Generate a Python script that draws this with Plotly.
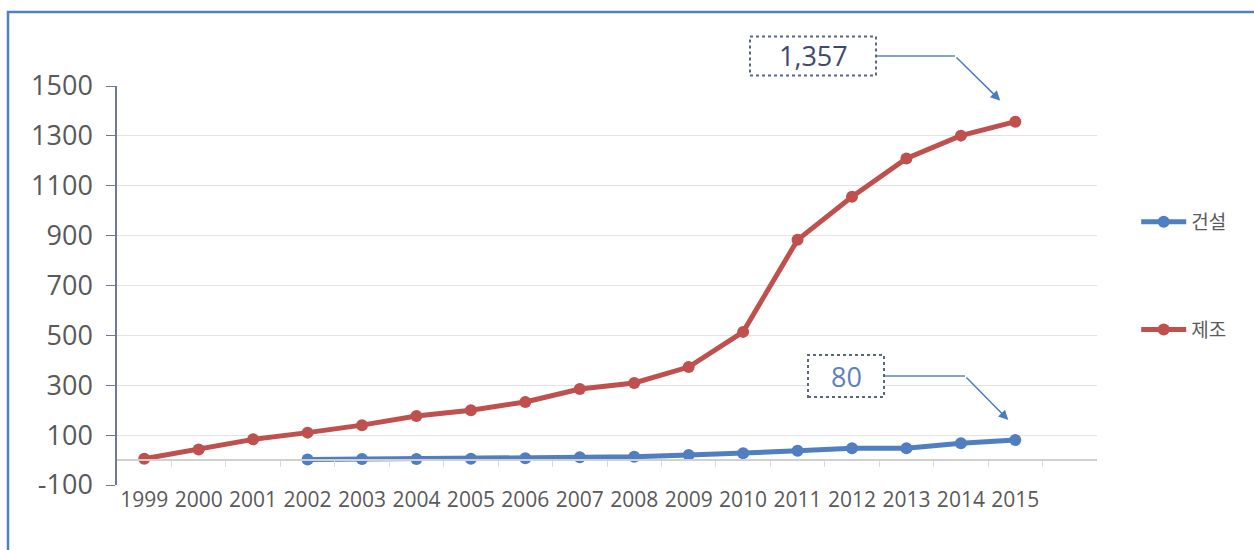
import plotly.graph_objects as go

years = ["1999", "2000", "2001", "2002", "2003", "2004", "2005", "2006", "2007",
         "2008", "2009", "2010", "2011", "2012", "2013", "2014", "2015"]
manufacturing = [5, 42, 83, 110, 140, 177, 200, 233, 285, 309, 373, 514, 883, 1056, 1209, 1301, 1357]
construction = [None, None, None, 2, 4, 4, 5, 7, 11, 13, 20, 27, 37, 47, 47, 67, 80]
name_con = "건설"
name_man = "제조"
label_man = "1,357"
label_con = "80"
y_ticks = [-100, 100, 300, 500, 700, 900, 1100, 1300, 1500]
y_ticktext = ["-100", "100", "300", "500", "700", "900", "1100", "1300", "1500"]

xs = list(range(len(years)))
RED = "#C0504D"
BLUE = "#4F7FC0"
GRAY = "#595959"
FONT = "Open Sans, Noto Sans CJK KR, sans-serif"

# plot area pixels
L, R, T, B = 117, 1097, 86, 485
W, H = 1254, 550
ymin, ymax = -100, 1500
xmin, xmax = -0.5, 17.5


def px_x(xv):
    return L + (xv - xmin) / (xmax - xmin) * (R - L)


def px_y(yv):
    return B - (yv - ymin) / (ymax - ymin) * (B - T)


def pfx(px):
    return (px - L) / (R - L)


def pfy(py):
    return (B - py) / (B - T)


fig = go.Figure()
fig.add_trace(go.Scatter(
    x=xs, y=construction, name=name_con, mode="lines+markers",
    line=dict(color=BLUE, width=5), marker=dict(size=12, color=BLUE),
    legendgroup="a", xaxis="x2", hoverinfo="skip"))
fig.add_trace(go.Scatter(
    x=xs, y=manufacturing, name=name_man, mode="lines+markers",
    line=dict(color=RED, width=5), marker=dict(size=12, color=RED),
    legendgroup="b", hoverinfo="skip"))

shapes = []
annotations = []


def callout(text, xi, yv, box_cx, box_cy, box_w, box_h, bend_px, tip_dx, tip_dy, tcolor):
    shapes.append(dict(type="rect", xref="paper", yref="paper",
                       x0=pfx(box_cx - box_w / 2), x1=pfx(box_cx + box_w / 2),
                       y0=pfy(box_cy + box_h / 2), y1=pfy(box_cy - box_h / 2),
                       line=dict(color="#5a6680", width=2, dash="dot"),
                       fillcolor="white", layer="above"))
    annotations.append(dict(x=pfx(box_cx), y=pfy(box_cy), xref="paper", yref="paper",
                            xanchor="center", yanchor="middle",
                            text=text, showarrow=False,
                            font=dict(size=27, color=tcolor, family=FONT)))
    shapes.append(dict(type="line", xref="paper", yref="paper",
                       x0=pfx(box_cx + box_w / 2 + 1), x1=pfx(bend_px),
                       y0=pfy(box_cy), y1=pfy(box_cy),
                       line=dict(color="#5b87c0", width=1.5)))
    px, py = px_x(xi), px_y(yv)
    tx, ty = px + tip_dx, py + tip_dy
    annotations.append(dict(x=xi + (tip_dx / (R - L)) * (xmax - xmin),
                            y=yv - (tip_dy / (B - T)) * (ymax - ymin),
                            xref="x", yref="y",
                            ax=bend_px - tx, ay=box_cy - ty,
                            text="", showarrow=True, arrowhead=2, arrowsize=1.3,
                            arrowwidth=1.5, arrowcolor="#4a7ebb"))


callout(label_man, 16, manufacturing[16], 813, 56, 126, 39, 955, -15, -21, "#3f4a6b")
callout(label_con, 16, construction[16], 846, 376, 76, 42, 965, -7, -20, "#5b7fbf")

# outer blue frame
shapes.append(dict(type="rect", xref="paper", yref="paper",
                   x0=pfx(8), x1=pfx(1270), y0=pfy(600), y1=pfy(12),
                   line=dict(color="#4F81BD", width=2.5), layer="below"))

fig.update_layout(
    width=W, height=H,
    margin=dict(l=L, r=W - R, t=T, b=H - B),
    paper_bgcolor="white", plot_bgcolor="white",
    font=dict(family=FONT, color=GRAY),
    showlegend=True,
    legend=dict(x=1.04, y=pfy(203), xanchor="left", yanchor="top",
                itemwidth=45,
                tracegroupgap=80, font=dict(size=19, color=GRAY,
                                             family="Noto Sans CJK KR, sans-serif"),
                bgcolor="rgba(0,0,0,0)"),
    xaxis=dict(range=[xmin, xmax], tickmode="array", tickvals=xs, ticktext=years,
               showgrid=False, zeroline=False, showline=False, ticks="",
               tickfont=dict(size=21, color=GRAY)),
    xaxis2=dict(range=[xmin, xmax], overlaying="x", anchor="free",
                position=(0 - ymin) / (ymax - ymin), side="bottom",
                showline=True, linecolor="#d0d0d0", linewidth=1.5,
                ticks="outside", ticklen=6, tickcolor="#d9d9d9", tickwidth=1,
                tickmode="array", tickvals=[i + 0.5 for i in range(len(years))],
                showticklabels=False, showgrid=False, zeroline=False),
    yaxis=dict(range=[ymin, ymax], tickmode="array", tickvals=y_ticks, ticktext=y_ticktext,
               showgrid=True, gridcolor="#e3e3e3", gridwidth=1,
               zeroline=False, showline=True, linecolor="#6c7a96", linewidth=1.5,
               ticks="outside", ticklen=9, tickcolor="#6c7a96", ticklabelstandoff=8,
               tickfont=dict(size=27, color=GRAY)),
    shapes=shapes, annotations=annotations,
)

fig.write_html("out.html")
